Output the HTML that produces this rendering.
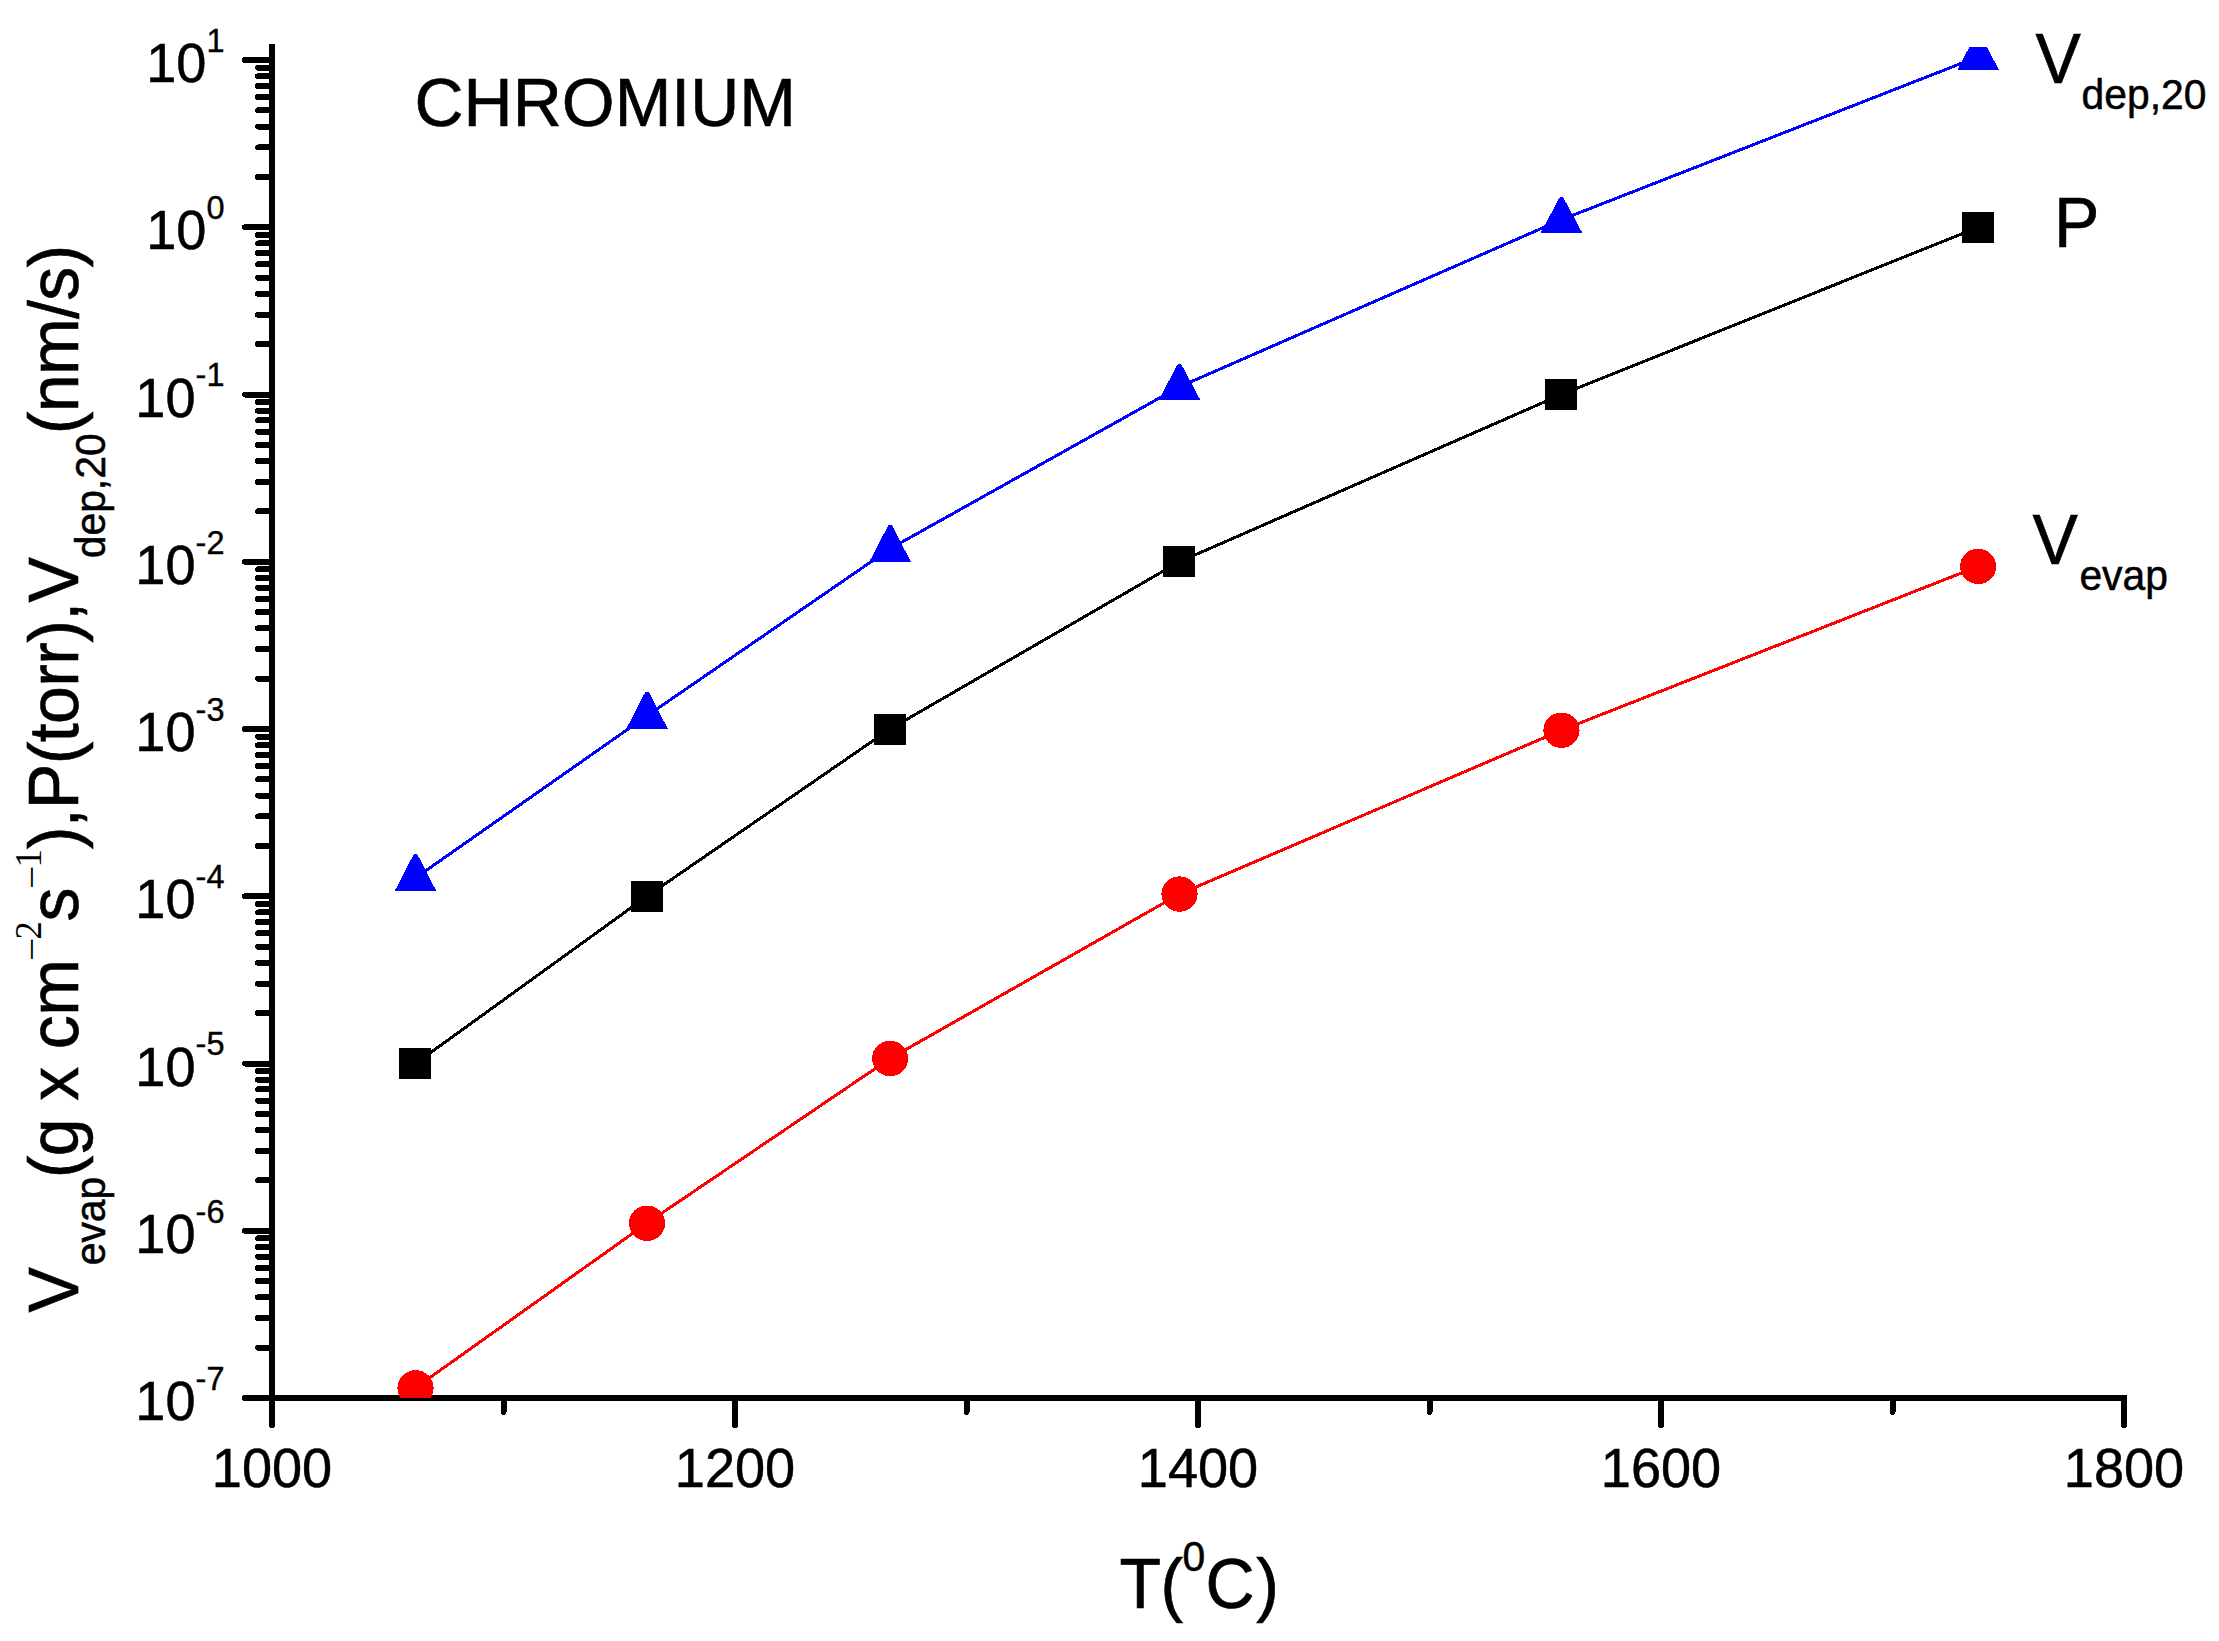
<!DOCTYPE html>
<html lang="en"><head><meta charset="utf-8"><title>Chromium evaporation</title>
<style>html,body{margin:0;padding:0;background:#fff;}svg{display:block;}text{font-family:"Liberation Sans",Arial,sans-serif;fill:#000;}.m{font-size:66.67px;letter-spacing:-0.6px;stroke:#000;stroke-width:0.6px;}.s{font-size:40px;letter-spacing:0px;stroke:#000;stroke-width:0.5px;}.t{font-size:54.17px;stroke:#000;stroke-width:0.5px;}.ts{font-size:32.5px;stroke-width:0.4px;}.sf{font-family:"Liberation Serif","Times New Roman",serif;font-size:36.67px;}</style></head><body>
<svg width="2219" height="1641" viewBox="0 0 2219 1641">
<rect width="2219" height="1641" fill="#fff"/>
<g stroke="#000" stroke-width="6" fill="none" shape-rendering="crispEdges">
<line x1="272.0" y1="44.0" x2="272.0" y2="1401.0"/>
<line x1="269.0" y1="1398.0" x2="2127.0" y2="1398.0"/>
</g>
<g stroke="#000" stroke-width="6" stroke-linecap="round" fill="none" shape-rendering="crispEdges">
<line x1="245.0" y1="60.00" x2="272.0" y2="60.00"/>
<line x1="258.0" y1="176.90" x2="272.0" y2="176.90"/>
<line x1="258.0" y1="147.45" x2="272.0" y2="147.45"/>
<line x1="258.0" y1="126.56" x2="272.0" y2="126.56"/>
<line x1="258.0" y1="110.35" x2="272.0" y2="110.35"/>
<line x1="258.0" y1="97.10" x2="272.0" y2="97.10"/>
<line x1="258.0" y1="85.91" x2="272.0" y2="85.91"/>
<line x1="258.0" y1="76.21" x2="272.0" y2="76.21"/>
<line x1="258.0" y1="67.65" x2="272.0" y2="67.65"/>
<line x1="245.0" y1="227.25" x2="272.0" y2="227.25"/>
<line x1="258.0" y1="344.15" x2="272.0" y2="344.15"/>
<line x1="258.0" y1="314.70" x2="272.0" y2="314.70"/>
<line x1="258.0" y1="293.81" x2="272.0" y2="293.81"/>
<line x1="258.0" y1="277.60" x2="272.0" y2="277.60"/>
<line x1="258.0" y1="264.35" x2="272.0" y2="264.35"/>
<line x1="258.0" y1="253.16" x2="272.0" y2="253.16"/>
<line x1="258.0" y1="243.46" x2="272.0" y2="243.46"/>
<line x1="258.0" y1="234.90" x2="272.0" y2="234.90"/>
<line x1="245.0" y1="394.50" x2="272.0" y2="394.50"/>
<line x1="258.0" y1="511.40" x2="272.0" y2="511.40"/>
<line x1="258.0" y1="481.95" x2="272.0" y2="481.95"/>
<line x1="258.0" y1="461.06" x2="272.0" y2="461.06"/>
<line x1="258.0" y1="444.85" x2="272.0" y2="444.85"/>
<line x1="258.0" y1="431.60" x2="272.0" y2="431.60"/>
<line x1="258.0" y1="420.41" x2="272.0" y2="420.41"/>
<line x1="258.0" y1="410.71" x2="272.0" y2="410.71"/>
<line x1="258.0" y1="402.15" x2="272.0" y2="402.15"/>
<line x1="245.0" y1="561.75" x2="272.0" y2="561.75"/>
<line x1="258.0" y1="678.65" x2="272.0" y2="678.65"/>
<line x1="258.0" y1="649.20" x2="272.0" y2="649.20"/>
<line x1="258.0" y1="628.31" x2="272.0" y2="628.31"/>
<line x1="258.0" y1="612.10" x2="272.0" y2="612.10"/>
<line x1="258.0" y1="598.85" x2="272.0" y2="598.85"/>
<line x1="258.0" y1="587.66" x2="272.0" y2="587.66"/>
<line x1="258.0" y1="577.96" x2="272.0" y2="577.96"/>
<line x1="258.0" y1="569.40" x2="272.0" y2="569.40"/>
<line x1="245.0" y1="729.00" x2="272.0" y2="729.00"/>
<line x1="258.0" y1="845.90" x2="272.0" y2="845.90"/>
<line x1="258.0" y1="816.45" x2="272.0" y2="816.45"/>
<line x1="258.0" y1="795.56" x2="272.0" y2="795.56"/>
<line x1="258.0" y1="779.35" x2="272.0" y2="779.35"/>
<line x1="258.0" y1="766.10" x2="272.0" y2="766.10"/>
<line x1="258.0" y1="754.91" x2="272.0" y2="754.91"/>
<line x1="258.0" y1="745.21" x2="272.0" y2="745.21"/>
<line x1="258.0" y1="736.65" x2="272.0" y2="736.65"/>
<line x1="245.0" y1="896.25" x2="272.0" y2="896.25"/>
<line x1="258.0" y1="1013.15" x2="272.0" y2="1013.15"/>
<line x1="258.0" y1="983.70" x2="272.0" y2="983.70"/>
<line x1="258.0" y1="962.81" x2="272.0" y2="962.81"/>
<line x1="258.0" y1="946.60" x2="272.0" y2="946.60"/>
<line x1="258.0" y1="933.35" x2="272.0" y2="933.35"/>
<line x1="258.0" y1="922.16" x2="272.0" y2="922.16"/>
<line x1="258.0" y1="912.46" x2="272.0" y2="912.46"/>
<line x1="258.0" y1="903.90" x2="272.0" y2="903.90"/>
<line x1="245.0" y1="1063.50" x2="272.0" y2="1063.50"/>
<line x1="258.0" y1="1180.40" x2="272.0" y2="1180.40"/>
<line x1="258.0" y1="1150.95" x2="272.0" y2="1150.95"/>
<line x1="258.0" y1="1130.06" x2="272.0" y2="1130.06"/>
<line x1="258.0" y1="1113.85" x2="272.0" y2="1113.85"/>
<line x1="258.0" y1="1100.60" x2="272.0" y2="1100.60"/>
<line x1="258.0" y1="1089.41" x2="272.0" y2="1089.41"/>
<line x1="258.0" y1="1079.71" x2="272.0" y2="1079.71"/>
<line x1="258.0" y1="1071.15" x2="272.0" y2="1071.15"/>
<line x1="245.0" y1="1230.75" x2="272.0" y2="1230.75"/>
<line x1="258.0" y1="1347.65" x2="272.0" y2="1347.65"/>
<line x1="258.0" y1="1318.20" x2="272.0" y2="1318.20"/>
<line x1="258.0" y1="1297.31" x2="272.0" y2="1297.31"/>
<line x1="258.0" y1="1281.10" x2="272.0" y2="1281.10"/>
<line x1="258.0" y1="1267.85" x2="272.0" y2="1267.85"/>
<line x1="258.0" y1="1256.66" x2="272.0" y2="1256.66"/>
<line x1="258.0" y1="1246.96" x2="272.0" y2="1246.96"/>
<line x1="258.0" y1="1238.40" x2="272.0" y2="1238.40"/>
<line x1="245.0" y1="1398.00" x2="272.0" y2="1398.00"/>
<line x1="272.00" y1="1398.0" x2="272.00" y2="1425.0"/>
<line x1="503.50" y1="1398.0" x2="503.50" y2="1412.0"/>
<line x1="735.00" y1="1398.0" x2="735.00" y2="1425.0"/>
<line x1="966.50" y1="1398.0" x2="966.50" y2="1412.0"/>
<line x1="1198.00" y1="1398.0" x2="1198.00" y2="1425.0"/>
<line x1="1429.50" y1="1398.0" x2="1429.50" y2="1412.0"/>
<line x1="1661.00" y1="1398.0" x2="1661.00" y2="1425.0"/>
<line x1="1892.50" y1="1398.0" x2="1892.50" y2="1412.0"/>
<line x1="2124.00" y1="1398.0" x2="2124.00" y2="1425.0"/>
</g>
<text class="t" text-anchor="end" transform="translate(224.5,82.00) scale(1,1.035)">10<tspan class="ts" dy="-28.99">1</tspan></text>
<text class="t" text-anchor="end" transform="translate(224.5,249.25) scale(1,1.035)">10<tspan class="ts" dy="-28.99">0</tspan></text>
<text class="t" text-anchor="end" transform="translate(224.5,416.50) scale(1,1.035)">10<tspan class="ts" dy="-28.99">-1</tspan></text>
<text class="t" text-anchor="end" transform="translate(224.5,583.75) scale(1,1.035)">10<tspan class="ts" dy="-28.99">-2</tspan></text>
<text class="t" text-anchor="end" transform="translate(224.5,751.00) scale(1,1.035)">10<tspan class="ts" dy="-28.99">-3</tspan></text>
<text class="t" text-anchor="end" transform="translate(224.5,918.25) scale(1,1.035)">10<tspan class="ts" dy="-28.99">-4</tspan></text>
<text class="t" text-anchor="end" transform="translate(224.5,1085.50) scale(1,1.035)">10<tspan class="ts" dy="-28.99">-5</tspan></text>
<text class="t" text-anchor="end" transform="translate(224.5,1252.75) scale(1,1.035)">10<tspan class="ts" dy="-28.99">-6</tspan></text>
<text class="t" text-anchor="end" transform="translate(224.5,1420.00) scale(1,1.035)">10<tspan class="ts" dy="-28.99">-7</tspan></text>
<text class="t" text-anchor="middle" transform="translate(272.00,1487) scale(1,1.035)">1000</text>
<text class="t" text-anchor="middle" transform="translate(735.00,1487) scale(1,1.035)">1200</text>
<text class="t" text-anchor="middle" transform="translate(1198.00,1487) scale(1,1.035)">1400</text>
<text class="t" text-anchor="middle" transform="translate(1661.00,1487) scale(1,1.035)">1600</text>
<text class="t" text-anchor="middle" transform="translate(2124.00,1487) scale(1,1.035)">1800</text>
<clipPath id="cp"><rect x="272.0" y="47.0" width="1855.0" height="1351.0"/></clipPath>
<g clip-path="url(#cp)" shape-rendering="crispEdges">
<polyline points="415.53,1063.50 647.03,896.25 890.11,729.00 1179.48,561.75 1561.45,394.50 1978.15,227.25" fill="none" stroke="#000" stroke-width="3"/>
<rect x="399.33" y="1048.00" width="32" height="31" fill="#000"/>
<rect x="630.83" y="880.75" width="32" height="31" fill="#000"/>
<rect x="873.90" y="713.50" width="32" height="31" fill="#000"/>
<rect x="1163.28" y="546.25" width="32" height="31" fill="#000"/>
<rect x="1545.25" y="379.00" width="32" height="31" fill="#000"/>
<rect x="1961.95" y="211.75" width="32" height="31" fill="#000"/>
<polyline points="415.53,1387.81 647.03,1223.18 890.11,1058.50 1179.48,894.08 1561.45,730.26 1978.15,566.42" fill="none" stroke="#f00" stroke-width="3"/>
<ellipse cx="415.53" cy="1387.81" rx="18.1" ry="17.7" fill="#f00"/>
<ellipse cx="647.03" cy="1223.18" rx="18.1" ry="17.7" fill="#f00"/>
<ellipse cx="890.11" cy="1058.50" rx="18.1" ry="17.7" fill="#f00"/>
<ellipse cx="1179.48" cy="894.08" rx="18.1" ry="17.7" fill="#f00"/>
<ellipse cx="1561.45" cy="730.26" rx="18.1" ry="17.7" fill="#f00"/>
<ellipse cx="1978.15" cy="566.42" rx="18.1" ry="17.7" fill="#f00"/>
<polyline points="415.53,877.90 647.03,715.80 890.11,548.70 1179.48,386.80 1561.45,219.70 1978.15,56.80" fill="none" stroke="#00f" stroke-width="3"/>
<polygon points="413.93,853.90 417.13,853.90 436.33,891.00 394.73,891.00" fill="#00f"/>
<polygon points="645.43,691.80 648.63,691.80 667.83,728.90 626.23,728.90" fill="#00f"/>
<polygon points="888.50,524.90 891.71,524.90 910.90,561.80 869.31,561.80" fill="#00f"/>
<polygon points="1177.88,363.90 1181.08,363.90 1200.28,399.90 1158.68,399.90" fill="#00f"/>
<polygon points="1559.86,196.90 1563.05,196.90 1582.25,232.80 1540.65,232.80" fill="#00f"/>
<polygon points="1976.56,33.40 1979.75,33.40 1998.95,69.90 1957.36,69.90" fill="#00f"/>
</g>
<text class="m" style="letter-spacing:0" transform="translate(414.5,126) scale(1.02,1.04)">CHROMIUM</text>
<text class="m" transform="translate(2035.4,82.9) scale(1.02,1.045)">V</text>
<text class="s" transform="translate(2081.6,109.2) scale(1.02,1.045)">dep,20</text>
<text class="m" transform="translate(2054,246.9) scale(1.02,1.045)">P</text>
<text class="m" transform="translate(2032.4,564) scale(1.02,1.045)">V</text>
<text class="s" transform="translate(2079.4,589.7) scale(1.02,1.045)">evap</text>
<text class="m" transform="translate(1119.5,1607.8) scale(1.02,1.045)">T(</text>
<text class="s" transform="translate(1182.4,1570.8) scale(1.02,1.045)">0</text>
<text class="m" transform="translate(1205.6,1607.8) scale(1.02,1.045)">C</text>
<text class="m" transform="translate(1256.2,1607.8) scale(1.02,1.045)">)</text>
<text class="m" transform="translate(78.3,1312.6) rotate(-90) scale(1.02,1.045)">V</text>
<text class="s" transform="translate(105.4,1265.3) rotate(-90) scale(1.02,1.045)">evap</text>
<text class="m" transform="translate(78.3,1178.3) rotate(-90) scale(1.02,1.045)">(g x cm</text>
<text class="sf" transform="translate(43.8,961) rotate(-90) scale(1.13,1)">−</text>
<text class="sf" transform="translate(41.0,939.6) rotate(-90) scale(1,1.04)">2</text>
<text class="m" transform="translate(78.3,921.5) rotate(-90) scale(1.02,1.045)">s</text>
<text class="sf" transform="translate(43.8,888.9) rotate(-90) scale(1.13,1)">−</text>
<text class="sf" transform="translate(41.0,867.5) rotate(-90) scale(1,1.04)">1</text>
<text class="m" transform="translate(78.3,849.3) rotate(-90) scale(1.02,1.045)">),P(torr),V</text>
<text class="s" transform="translate(105.4,558.2) rotate(-90) scale(1.02,1.045)">dep,20</text>
<text class="m" transform="translate(78.3,434.3) rotate(-90) scale(1.02,1.045)">(nm/s)</text>
</svg></body></html>
